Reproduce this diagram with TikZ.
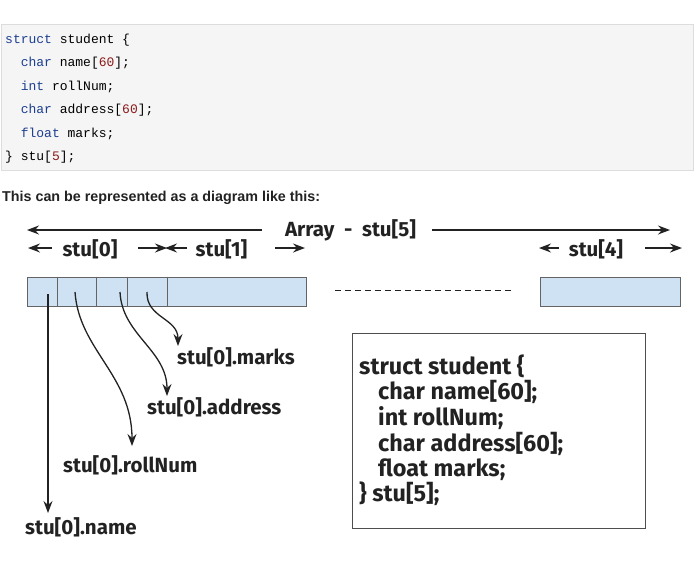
\documentclass[tikz,border=0pt]{standalone}
\usepackage{fontspec}
\setmainfont{Liberation Sans}
\newfontfamily\codefont{Liberation Mono}
\newfontfamily\handfont{Fira Sans}
\usetikzlibrary{arrows.meta}
\definecolor{codebg}{HTML}{F5F5F5}
\definecolor{codeborder}{HTML}{DDDDDD}
\definecolor{kw}{HTML}{1C3F8F}
\definecolor{num}{HTML}{8B1A1A}
\definecolor{cellfill}{HTML}{CFE2F3}
\definecolor{ink}{HTML}{222222}
\tikzset{
  codeline/.style={anchor=base west,inner sep=0pt,font=\codefont\fontsize{13}{13}\selectfont},
  hand/.style={inner sep=0pt,text=ink,font=\handfont\bfseries\fontsize{20.5}{20.5}\selectfont},
  boxline/.style={anchor=base west,inner sep=0pt,text=ink,font=\handfont\bfseries\fontsize{23.4}{23.4}\selectfont},
  cell/.style={draw=ink!70,fill=cellfill,line width=0.8pt},
  arr/.style={draw=ink,line width=1.3pt,-{Stealth[length=12pt,width=9pt,inset=4pt]}},
}
\begin{document}
\begin{tikzpicture}[x=1pt,y=-1pt]
\useasboundingbox (0,0) rectangle (695,571);
% code block
\node[draw=codeborder,fill=codebg,minimum width=692pt,minimum height=146pt,inner sep=0pt,anchor=north west] (codebox) at (0.5,23.5) {};
\node[codeline] (c1) at (5,43) {\textcolor{kw}{struct} student \{};
\node[codeline] (c2) at (5,66.5) {\ \ \textcolor{kw}{char} name[\textcolor{num}{60}];};
\node[codeline] (c3) at (5,90) {\ \ \textcolor{kw}{int} rollNum;};
\node[codeline] (c4) at (5,113.5) {\ \ \textcolor{kw}{char} address[\textcolor{num}{60}];};
\node[codeline] (c5) at (5,137) {\ \ \textcolor{kw}{float} marks;};
\node[codeline] (c6) at (5,160.5) {\} stu[\textcolor{num}{5}];};
\node[anchor=base west,inner sep=0pt,font=\bfseries\fontsize{14.3}{14.3}\selectfont,text=ink] (caption) at (2,201) {This can be represented as a diagram like this:};
% top arrow
\node[hand] (arrtitle) at (350.5,230) {Array\ \ -\ \ stu[5]};
\coordinate (topLs) at (262,230); \coordinate (topL) at (27,230);
\coordinate (topRs) at (432,230); \coordinate (topR) at (670,230);
\draw[arr] (topLs) -- (topL);
\draw[arr] (topRs) -- (topR);
% element labels
\node[hand] (s0) at (90,249) {stu[0]};
\node[hand] (s1) at (221.5,249) {stu[1]};
\node[hand] (s4) at (596,249) {stu[4]};
\coordinate (s0as) at (52,248); \coordinate (s0a) at (28,248);
\coordinate (s0bs) at (138,248); \coordinate (s0b) at (167,248);
\coordinate (s1as) at (187,248); \coordinate (s1a) at (165,248);
\coordinate (s1bs) at (275,248); \coordinate (s1b) at (305,248);
\coordinate (s4as) at (559,248); \coordinate (s4a) at (539,248);
\coordinate (s4bs) at (645,248); \coordinate (s4b) at (682,248);
\draw[arr] (s0as) -- (s0a);
\draw[arr] (s0bs) -- (s0b);
\draw[arr] (s1as) -- (s1a);
\draw[arr] (s1bs) -- (s1b);
\draw[arr] (s4as) -- (s4a);
\draw[arr] (s4bs) -- (s4b);
% array cells
\node[cell,minimum width=279pt,minimum height=29pt,inner sep=0pt,anchor=north west] (arr0) at (27,276.5) {};
\foreach \xx in {57,96,127,167}{\draw[ink!70,line width=0.8pt] (\xx,276.5) -- (\xx,305.5);}
\node[cell,minimum width=140pt,minimum height=29pt,inner sep=0pt,anchor=north west] (arr4) at (539.5,276.5) {};
\coordinate (dashL) at (335,290); \coordinate (dashR) at (512,290);
\draw[ink,line width=1pt,dash pattern=on 6pt off 4pt] (dashL) -- (dashR);
% member labels
\node[hand,anchor=base west] (lmarks) at (177,364) {stu[0].marks};
\node[hand,anchor=base west] (laddr) at (147,414) {stu[0].address};
\node[hand,anchor=base west] (lroll) at (63,472) {stu[0].rollNum};
\node[hand,anchor=base west] (lname) at (25,534) {stu[0].name};
\coordinate (pname) at (48,294);
\coordinate (proll) at (75,292);
\coordinate (paddr) at (120,292);
\coordinate (pmarks) at (147,292);
\coordinate (tname) at (48,513);
\coordinate (troll) at (132,446);
\coordinate (taddr) at (167,396);
\coordinate (tmarks) at (178,346);
\draw[arr] (pname) -- (tname);
\draw[arr] (proll) .. controls (79,350) and (132,375) .. (troll);
\draw[arr] (paddr) .. controls (122,335) and (167,350) .. (taddr);
\draw[arr] (pmarks) .. controls (146,318) and (178,318) .. (tmarks);
% struct box
\node[draw=ink!80,line width=1pt,minimum width=293pt,minimum height=195pt,inner sep=0pt,anchor=north west] (sbox) at (352,333) {};
\node[boxline] (b1) at (359,374) {struct student \{};
\node[boxline] (b2) at (378,399) {char name[60];};
\node[boxline] (b3) at (378,425) {int rollNum;};
\node[boxline] (b4) at (378,451) {char address[60];};
\node[boxline] (b5) at (378,476) {float marks;};
\node[boxline] (b6) at (359,501) {\} stu[5];};
\end{tikzpicture}
\end{document}
